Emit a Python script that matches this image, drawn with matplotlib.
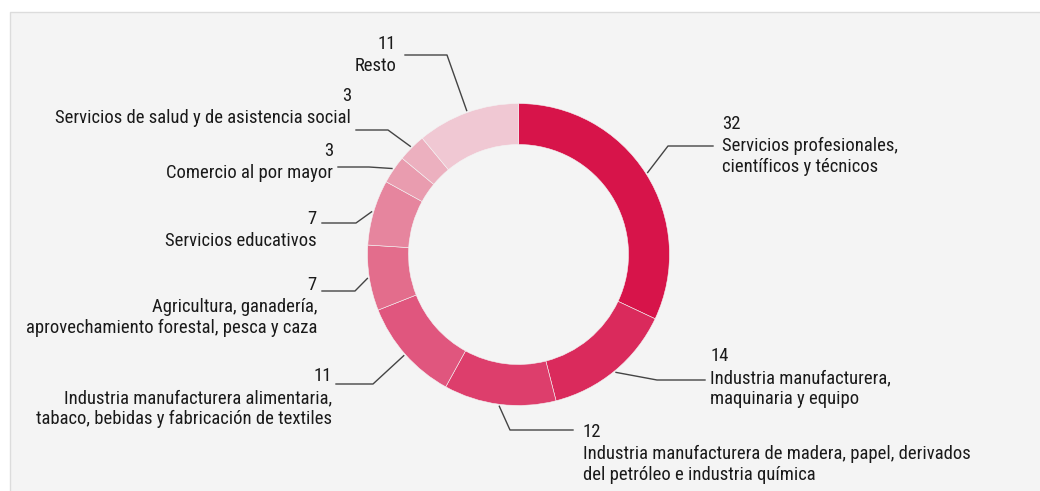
import matplotlib.pyplot as plt
from matplotlib.patches import Rectangle
import numpy as np

plt.rcParams['font.family'] = ['Roboto Condensed', 'Roboto', 'DejaVu Sans']

# shares by sector (%), clockwise from 12 o'clock
values = [32, 14, 12, 11, 7, 7, 3, 3, 11]
names = [
    "Servicios profesionales,\ncientíficos y técnicos",
    "Industria manufacturera,\nmaquinaria y equipo",
    "Industria manufacturera de madera, papel, derivados\ndel petróleo e industria química",
    "Industria manufacturera alimentaria,\ntabaco, bebidas y fabricación de textiles",
    "Agricultura, ganadería,\naprovechamiento forestal, pesca y caza",
    "Servicios educativos",
    "Comercio al por mayor",
    "Servicios de salud y de asistencia social",
    "Resto",
]
colors = ['#D7144A', '#DA2A5C', '#DD3E6C', '#E0567E', '#E36D8C',
          '#E6859E', '#E99CAF', '#ECB0BF', '#F0C8D3']

# label layout in pixel coords (x, y of the number, alignment)
H = 491
label_pos = [(722, 124, 'left'), (710, 356, 'left'), (583, 432, 'left'),
             (332, 376, 'right'), (317, 285, 'right'), (317, 219, 'right'),
             (333, 151, 'right'), (351, 96, 'right'), (396, 44, 'right')]
# leader elbow (x, y) and end x
elbows = [(668, 146, 713), (657, 380, 705), (510, 430, 573),
          (373, 384, 336), (355, 291, 322), (356, 223, 322),
          (369, 167, 338), (388, 130, 356), (447, 55, 405)]

fig = plt.figure(figsize=(10.4, 4.91), dpi=100)
ax = fig.add_axes([0, 0, 1, 1])

ax.add_patch(Rectangle((10, -10), 1100, H - 12 + 10, facecolor='#F4F4F4',
                       edgecolor='#DCDCDC', linewidth=1, zorder=0))

cx, cy, R = 518.5, H - 254.5, 151
wedges, _ = ax.pie(values, colors=colors, startangle=90, counterclock=False,
                   center=(cx, cy), radius=R, frame=True,
                   wedgeprops=dict(width=41, edgecolor='#F4F4F4', linewidth=0.4))
ax.set_xlim(0, 1040)
ax.set_ylim(0, H)
ax.set_aspect('equal')
ax.axis('off')

fs = 13.4
for w, v, name, (tx, ty, ha), (ex, ey, lx) in zip(wedges, values, names, label_pos, elbows):
    mid = np.deg2rad((w.theta1 + w.theta2) / 2)
    sx = cx + (R + 2) * np.cos(mid)
    sy = cy + (R + 2) * np.sin(mid)
    ax.plot([sx, ex, lx], [sy, H - ey, H - ey], color='#444444', lw=1, zorder=3)
    ax.text(tx, H - ty, str(v), ha=ha, va='center', fontsize=fs, color='#1A1A1A')
    for k, line in enumerate(name.split('\n')):
        ax.text(tx, H - ty - 22 - 20.5 * k, line, ha=ha, va='center',
                fontsize=fs, color='#1A1A1A')

fig.savefig('out.png', dpi=100, facecolor='white')
